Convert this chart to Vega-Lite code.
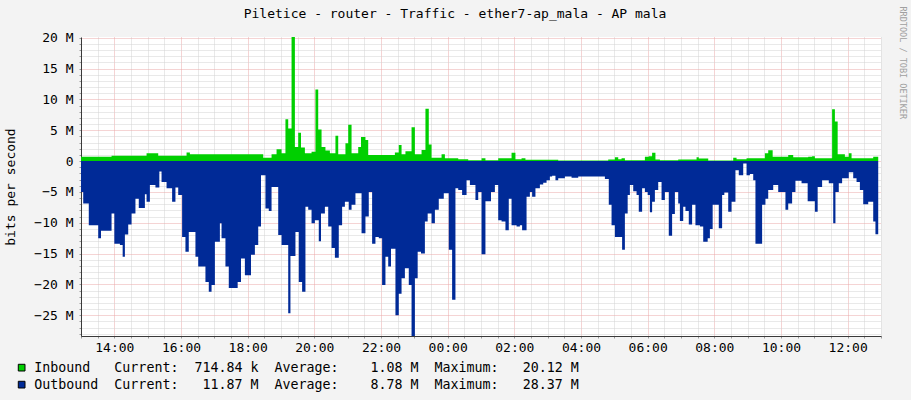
{
  "$schema": "https://vega.github.io/schema/vega-lite/v6.json",
  "autosize": "none",
  "width": 800,
  "height": 299,
  "padding": {"left": 81, "top": 37, "right": 30, "bottom": 64},
  "background": "#F3F3F3",
  "title": {
    "text": "Piletice - router - Traffic - ether7-ap_mala - AP mala",
    "font": "DejaVu Sans Mono", "fontSize": 13, "fontWeight": "normal", "color": "#000",
    "dx": -26, "dy": 24, "offset": 9
  },
  "data": {
    "values": [
      {"t": "2024-05-14T13:00", "s": "Outbound", "v": -5.0},
      {"t": "2024-05-14T13:04", "s": "Outbound", "v": -6.9},
      {"t": "2024-05-14T13:14", "s": "Outbound", "v": -10.4},
      {"t": "2024-05-14T13:31", "s": "Outbound", "v": -12.5},
      {"t": "2024-05-14T13:36", "s": "Outbound", "v": -11.3},
      {"t": "2024-05-14T13:55", "s": "Outbound", "v": -8.5},
      {"t": "2024-05-14T14:00", "s": "Outbound", "v": -13.4},
      {"t": "2024-05-14T14:10", "s": "Outbound", "v": -13.6},
      {"t": "2024-05-14T14:15", "s": "Outbound", "v": -15.5},
      {"t": "2024-05-14T14:19", "s": "Outbound", "v": -11.9},
      {"t": "2024-05-14T14:25", "s": "Outbound", "v": -10.3},
      {"t": "2024-05-14T14:31", "s": "Outbound", "v": -8.5},
      {"t": "2024-05-14T14:38", "s": "Outbound", "v": -6.1},
      {"t": "2024-05-14T14:44", "s": "Outbound", "v": -7.6},
      {"t": "2024-05-14T14:55", "s": "Outbound", "v": -5.4},
      {"t": "2024-05-14T14:58", "s": "Outbound", "v": -6.6},
      {"t": "2024-05-14T15:04", "s": "Outbound", "v": -3.9},
      {"t": "2024-05-14T15:14", "s": "Outbound", "v": -4.3},
      {"t": "2024-05-14T15:21", "s": "Outbound", "v": -1.7},
      {"t": "2024-05-14T15:25", "s": "Outbound", "v": -3.4},
      {"t": "2024-05-14T15:34", "s": "Outbound", "v": -4.4},
      {"t": "2024-05-14T15:44", "s": "Outbound", "v": -6.6},
      {"t": "2024-05-14T15:50", "s": "Outbound", "v": -4.3},
      {"t": "2024-05-14T15:55", "s": "Outbound", "v": -5.5},
      {"t": "2024-05-14T16:02", "s": "Outbound", "v": -12.3},
      {"t": "2024-05-14T16:08", "s": "Outbound", "v": -14.7},
      {"t": "2024-05-14T16:14", "s": "Outbound", "v": -11.5},
      {"t": "2024-05-14T16:26", "s": "Outbound", "v": -15.5},
      {"t": "2024-05-14T16:31", "s": "Outbound", "v": -17.1},
      {"t": "2024-05-14T16:44", "s": "Outbound", "v": -19.6},
      {"t": "2024-05-14T16:50", "s": "Outbound", "v": -21.2},
      {"t": "2024-05-14T16:55", "s": "Outbound", "v": -20.1},
      {"t": "2024-05-14T17:01", "s": "Outbound", "v": -13.1},
      {"t": "2024-05-14T17:10", "s": "Outbound", "v": -10.1},
      {"t": "2024-05-14T17:13", "s": "Outbound", "v": -12.5},
      {"t": "2024-05-14T17:20", "s": "Outbound", "v": -17.1},
      {"t": "2024-05-14T17:26", "s": "Outbound", "v": -20.6},
      {"t": "2024-05-14T17:42", "s": "Outbound", "v": -19.6},
      {"t": "2024-05-14T17:48", "s": "Outbound", "v": -15.8},
      {"t": "2024-05-14T17:55", "s": "Outbound", "v": -18.5},
      {"t": "2024-05-14T18:06", "s": "Outbound", "v": -15.2},
      {"t": "2024-05-14T18:13", "s": "Outbound", "v": -13.6},
      {"t": "2024-05-14T18:19", "s": "Outbound", "v": -10.6},
      {"t": "2024-05-14T18:24", "s": "Outbound", "v": -2.3},
      {"t": "2024-05-14T18:32", "s": "Outbound", "v": -7.7},
      {"t": "2024-05-14T18:38", "s": "Outbound", "v": -8.1},
      {"t": "2024-05-14T18:43", "s": "Outbound", "v": -4.2},
      {"t": "2024-05-14T18:55", "s": "Outbound", "v": -12.0},
      {"t": "2024-05-14T19:01", "s": "Outbound", "v": -13.6},
      {"t": "2024-05-14T19:13", "s": "Outbound", "v": -24.7},
      {"t": "2024-05-14T19:17", "s": "Outbound", "v": -15.4},
      {"t": "2024-05-14T19:26", "s": "Outbound", "v": -11.5},
      {"t": "2024-05-14T19:32", "s": "Outbound", "v": -19.6},
      {"t": "2024-05-14T19:38", "s": "Outbound", "v": -21.2},
      {"t": "2024-05-14T19:44", "s": "Outbound", "v": -7.4},
      {"t": "2024-05-14T19:49", "s": "Outbound", "v": -7.9},
      {"t": "2024-05-14T19:55", "s": "Outbound", "v": -10.1},
      {"t": "2024-05-14T20:01", "s": "Outbound", "v": -9.6},
      {"t": "2024-05-14T20:08", "s": "Outbound", "v": -13.0},
      {"t": "2024-05-14T20:12", "s": "Outbound", "v": -8.5},
      {"t": "2024-05-14T20:19", "s": "Outbound", "v": -7.4},
      {"t": "2024-05-14T20:25", "s": "Outbound", "v": -10.6},
      {"t": "2024-05-14T20:31", "s": "Outbound", "v": -14.1},
      {"t": "2024-05-14T20:37", "s": "Outbound", "v": -15.7},
      {"t": "2024-05-14T20:44", "s": "Outbound", "v": -10.4},
      {"t": "2024-05-14T20:50", "s": "Outbound", "v": -7.4},
      {"t": "2024-05-14T20:55", "s": "Outbound", "v": -6.6},
      {"t": "2024-05-14T21:02", "s": "Outbound", "v": -7.9},
      {"t": "2024-05-14T21:07", "s": "Outbound", "v": -7.1},
      {"t": "2024-05-14T21:14", "s": "Outbound", "v": -5.2},
      {"t": "2024-05-14T21:25", "s": "Outbound", "v": -11.7},
      {"t": "2024-05-14T21:32", "s": "Outbound", "v": -9.0},
      {"t": "2024-05-14T21:38", "s": "Outbound", "v": -5.0},
      {"t": "2024-05-14T21:44", "s": "Outbound", "v": -13.4},
      {"t": "2024-05-14T21:50", "s": "Outbound", "v": -12.3},
      {"t": "2024-05-14T21:56", "s": "Outbound", "v": -12.5},
      {"t": "2024-05-14T22:02", "s": "Outbound", "v": -20.1},
      {"t": "2024-05-14T22:08", "s": "Outbound", "v": -15.5},
      {"t": "2024-05-14T22:13", "s": "Outbound", "v": -17.1},
      {"t": "2024-05-14T22:18", "s": "Outbound", "v": -14.2},
      {"t": "2024-05-14T22:26", "s": "Outbound", "v": -25.0},
      {"t": "2024-05-14T22:32", "s": "Outbound", "v": -21.5},
      {"t": "2024-05-14T22:37", "s": "Outbound", "v": -19.0},
      {"t": "2024-05-14T22:43", "s": "Outbound", "v": -17.4},
      {"t": "2024-05-14T22:50", "s": "Outbound", "v": -20.1},
      {"t": "2024-05-14T22:55", "s": "Outbound", "v": -28.37},
      {"t": "2024-05-14T23:01", "s": "Outbound", "v": -19.0},
      {"t": "2024-05-14T23:06", "s": "Outbound", "v": -14.7},
      {"t": "2024-05-14T23:12", "s": "Outbound", "v": -15.0},
      {"t": "2024-05-14T23:19", "s": "Outbound", "v": -9.8},
      {"t": "2024-05-14T23:24", "s": "Outbound", "v": -8.5},
      {"t": "2024-05-14T23:31", "s": "Outbound", "v": -10.1},
      {"t": "2024-05-14T23:37", "s": "Outbound", "v": -7.9},
      {"t": "2024-05-14T23:44", "s": "Outbound", "v": -6.1},
      {"t": "2024-05-14T23:53", "s": "Outbound", "v": -5.2},
      {"t": "2024-05-15T00:02", "s": "Outbound", "v": -14.4},
      {"t": "2024-05-15T00:08", "s": "Outbound", "v": -22.5},
      {"t": "2024-05-15T00:14", "s": "Outbound", "v": -4.4},
      {"t": "2024-05-15T00:19", "s": "Outbound", "v": -4.7},
      {"t": "2024-05-15T00:26", "s": "Outbound", "v": -5.5},
      {"t": "2024-05-15T00:34", "s": "Outbound", "v": -3.1},
      {"t": "2024-05-15T00:40", "s": "Outbound", "v": -3.9},
      {"t": "2024-05-15T00:50", "s": "Outbound", "v": -6.3},
      {"t": "2024-05-15T00:55", "s": "Outbound", "v": -5.0},
      {"t": "2024-05-15T01:01", "s": "Outbound", "v": -15.1},
      {"t": "2024-05-15T01:08", "s": "Outbound", "v": -6.5},
      {"t": "2024-05-15T01:18", "s": "Outbound", "v": -5.0},
      {"t": "2024-05-15T01:25", "s": "Outbound", "v": -3.9},
      {"t": "2024-05-15T01:31", "s": "Outbound", "v": -9.6},
      {"t": "2024-05-15T01:37", "s": "Outbound", "v": -9.8},
      {"t": "2024-05-15T01:44", "s": "Outbound", "v": -11.2},
      {"t": "2024-05-15T01:50", "s": "Outbound", "v": -6.1},
      {"t": "2024-05-15T01:55", "s": "Outbound", "v": -10.4},
      {"t": "2024-05-15T02:04", "s": "Outbound", "v": -10.6},
      {"t": "2024-05-15T02:10", "s": "Outbound", "v": -10.4},
      {"t": "2024-05-15T02:14", "s": "Outbound", "v": -11.2},
      {"t": "2024-05-15T02:22", "s": "Outbound", "v": -5.8},
      {"t": "2024-05-15T02:28", "s": "Outbound", "v": -5.0},
      {"t": "2024-05-15T02:32", "s": "Outbound", "v": -5.8},
      {"t": "2024-05-15T02:38", "s": "Outbound", "v": -4.4},
      {"t": "2024-05-15T02:46", "s": "Outbound", "v": -3.8},
      {"t": "2024-05-15T02:52", "s": "Outbound", "v": -3.5},
      {"t": "2024-05-15T02:58", "s": "Outbound", "v": -3.1},
      {"t": "2024-05-15T03:04", "s": "Outbound", "v": -2.5},
      {"t": "2024-05-15T03:08", "s": "Outbound", "v": -2.4},
      {"t": "2024-05-15T03:14", "s": "Outbound", "v": -3.1},
      {"t": "2024-05-15T03:19", "s": "Outbound", "v": -2.8},
      {"t": "2024-05-15T03:31", "s": "Outbound", "v": -2.5},
      {"t": "2024-05-15T03:43", "s": "Outbound", "v": -2.7},
      {"t": "2024-05-15T03:55", "s": "Outbound", "v": -2.5},
      {"t": "2024-05-15T04:43", "s": "Outbound", "v": -2.9},
      {"t": "2024-05-15T04:50", "s": "Outbound", "v": -7.1},
      {"t": "2024-05-15T04:55", "s": "Outbound", "v": -10.4},
      {"t": "2024-05-15T05:01", "s": "Outbound", "v": -12.3},
      {"t": "2024-05-15T05:14", "s": "Outbound", "v": -14.4},
      {"t": "2024-05-15T05:19", "s": "Outbound", "v": -8.5},
      {"t": "2024-05-15T05:24", "s": "Outbound", "v": -5.5},
      {"t": "2024-05-15T05:28", "s": "Outbound", "v": -3.9},
      {"t": "2024-05-15T05:34", "s": "Outbound", "v": -4.9},
      {"t": "2024-05-15T05:40", "s": "Outbound", "v": -5.5},
      {"t": "2024-05-15T05:44", "s": "Outbound", "v": -8.2},
      {"t": "2024-05-15T05:50", "s": "Outbound", "v": -4.4},
      {"t": "2024-05-15T05:55", "s": "Outbound", "v": -5.0},
      {"t": "2024-05-15T06:00", "s": "Outbound", "v": -5.5},
      {"t": "2024-05-15T06:04", "s": "Outbound", "v": -8.3},
      {"t": "2024-05-15T06:08", "s": "Outbound", "v": -6.6},
      {"t": "2024-05-15T06:13", "s": "Outbound", "v": -4.7},
      {"t": "2024-05-15T06:19", "s": "Outbound", "v": -3.4},
      {"t": "2024-05-15T06:25", "s": "Outbound", "v": -6.3},
      {"t": "2024-05-15T06:31", "s": "Outbound", "v": -5.0},
      {"t": "2024-05-15T06:38", "s": "Outbound", "v": -12.1},
      {"t": "2024-05-15T06:44", "s": "Outbound", "v": -8.6},
      {"t": "2024-05-15T06:49", "s": "Outbound", "v": -5.0},
      {"t": "2024-05-15T06:55", "s": "Outbound", "v": -6.9},
      {"t": "2024-05-15T06:58", "s": "Outbound", "v": -9.7},
      {"t": "2024-05-15T07:04", "s": "Outbound", "v": -7.4},
      {"t": "2024-05-15T07:08", "s": "Outbound", "v": -8.1},
      {"t": "2024-05-15T07:14", "s": "Outbound", "v": -10.3},
      {"t": "2024-05-15T07:20", "s": "Outbound", "v": -7.1},
      {"t": "2024-05-15T07:26", "s": "Outbound", "v": -10.4},
      {"t": "2024-05-15T07:34", "s": "Outbound", "v": -10.6},
      {"t": "2024-05-15T07:40", "s": "Outbound", "v": -13.1},
      {"t": "2024-05-15T07:48", "s": "Outbound", "v": -12.5},
      {"t": "2024-05-15T07:52", "s": "Outbound", "v": -11.0},
      {"t": "2024-05-15T07:57", "s": "Outbound", "v": -7.1},
      {"t": "2024-05-15T08:08", "s": "Outbound", "v": -10.9},
      {"t": "2024-05-15T08:14", "s": "Outbound", "v": -5.5},
      {"t": "2024-05-15T08:18", "s": "Outbound", "v": -5.1},
      {"t": "2024-05-15T08:25", "s": "Outbound", "v": -8.2},
      {"t": "2024-05-15T08:31", "s": "Outbound", "v": -6.6},
      {"t": "2024-05-15T08:38", "s": "Outbound", "v": -1.5},
      {"t": "2024-05-15T08:44", "s": "Outbound", "v": -2.3},
      {"t": "2024-05-15T08:52", "s": "Outbound", "v": -0.4},
      {"t": "2024-05-15T08:58", "s": "Outbound", "v": -2.3},
      {"t": "2024-05-15T09:04", "s": "Outbound", "v": -2.1},
      {"t": "2024-05-15T09:10", "s": "Outbound", "v": -3.1},
      {"t": "2024-05-15T09:14", "s": "Outbound", "v": -13.4},
      {"t": "2024-05-15T09:26", "s": "Outbound", "v": -7.1},
      {"t": "2024-05-15T09:32", "s": "Outbound", "v": -6.1},
      {"t": "2024-05-15T09:37", "s": "Outbound", "v": -4.7},
      {"t": "2024-05-15T09:46", "s": "Outbound", "v": -3.9},
      {"t": "2024-05-15T09:55", "s": "Outbound", "v": -5.0},
      {"t": "2024-05-15T10:08", "s": "Outbound", "v": -7.9},
      {"t": "2024-05-15T10:13", "s": "Outbound", "v": -6.9},
      {"t": "2024-05-15T10:20", "s": "Outbound", "v": -5.0},
      {"t": "2024-05-15T10:26", "s": "Outbound", "v": -3.2},
      {"t": "2024-05-15T10:37", "s": "Outbound", "v": -3.6},
      {"t": "2024-05-15T10:48", "s": "Outbound", "v": -6.5},
      {"t": "2024-05-15T11:01", "s": "Outbound", "v": -8.2},
      {"t": "2024-05-15T11:06", "s": "Outbound", "v": -4.2},
      {"t": "2024-05-15T11:14", "s": "Outbound", "v": -3.1},
      {"t": "2024-05-15T11:26", "s": "Outbound", "v": -3.6},
      {"t": "2024-05-15T11:34", "s": "Outbound", "v": -10.1},
      {"t": "2024-05-15T11:38", "s": "Outbound", "v": -5.0},
      {"t": "2024-05-15T11:44", "s": "Outbound", "v": -3.6},
      {"t": "2024-05-15T11:50", "s": "Outbound", "v": -2.8},
      {"t": "2024-05-15T12:02", "s": "Outbound", "v": -1.8},
      {"t": "2024-05-15T12:10", "s": "Outbound", "v": -2.8},
      {"t": "2024-05-15T12:16", "s": "Outbound", "v": -3.4},
      {"t": "2024-05-15T12:22", "s": "Outbound", "v": -4.7},
      {"t": "2024-05-15T12:28", "s": "Outbound", "v": -7.0},
      {"t": "2024-05-15T12:37", "s": "Outbound", "v": -6.6},
      {"t": "2024-05-15T12:46", "s": "Outbound", "v": -9.8},
      {"t": "2024-05-15T12:50", "s": "Outbound", "v": -11.87},
      {"t": "2024-05-15T12:55", "s": "Outbound", "v": -11.87},
      {"t": "2024-05-14T13:00", "s": "Inbound", "v": 0.7},
      {"t": "2024-05-14T13:55", "s": "Inbound", "v": 0.85},
      {"t": "2024-05-14T14:58", "s": "Inbound", "v": 1.25},
      {"t": "2024-05-14T15:19", "s": "Inbound", "v": 0.85},
      {"t": "2024-05-14T16:10", "s": "Inbound", "v": 1.4},
      {"t": "2024-05-14T16:16", "s": "Inbound", "v": 1.1},
      {"t": "2024-05-14T18:28", "s": "Inbound", "v": 0.55},
      {"t": "2024-05-14T18:43", "s": "Inbound", "v": 1.1},
      {"t": "2024-05-14T18:52", "s": "Inbound", "v": 1.9},
      {"t": "2024-05-14T19:01", "s": "Inbound", "v": 1.25},
      {"t": "2024-05-14T19:08", "s": "Inbound", "v": 6.8},
      {"t": "2024-05-14T19:13", "s": "Inbound", "v": 5.3},
      {"t": "2024-05-14T19:19", "s": "Inbound", "v": 20.12},
      {"t": "2024-05-14T19:25", "s": "Inbound", "v": 2.3},
      {"t": "2024-05-14T19:31", "s": "Inbound", "v": 4.6},
      {"t": "2024-05-14T19:36", "s": "Inbound", "v": 2.2},
      {"t": "2024-05-14T19:43", "s": "Inbound", "v": 1.25},
      {"t": "2024-05-14T19:55", "s": "Inbound", "v": 1.5},
      {"t": "2024-05-14T20:02", "s": "Inbound", "v": 11.6},
      {"t": "2024-05-14T20:07", "s": "Inbound", "v": 5.1},
      {"t": "2024-05-14T20:13", "s": "Inbound", "v": 2.3},
      {"t": "2024-05-14T20:20", "s": "Inbound", "v": 1.7},
      {"t": "2024-05-14T20:28", "s": "Inbound", "v": 1.25},
      {"t": "2024-05-14T20:38", "s": "Inbound", "v": 4.1},
      {"t": "2024-05-14T20:43", "s": "Inbound", "v": 1.1},
      {"t": "2024-05-14T20:56", "s": "Inbound", "v": 2.9},
      {"t": "2024-05-14T21:01", "s": "Inbound", "v": 5.9},
      {"t": "2024-05-14T21:07", "s": "Inbound", "v": 1.25},
      {"t": "2024-05-14T21:19", "s": "Inbound", "v": 2.3},
      {"t": "2024-05-14T21:24", "s": "Inbound", "v": 3.9},
      {"t": "2024-05-14T21:32", "s": "Inbound", "v": 3.4},
      {"t": "2024-05-14T21:37", "s": "Inbound", "v": 1.0},
      {"t": "2024-05-14T22:25", "s": "Inbound", "v": 1.4},
      {"t": "2024-05-14T22:32", "s": "Inbound", "v": 2.6},
      {"t": "2024-05-14T22:37", "s": "Inbound", "v": 1.1},
      {"t": "2024-05-14T22:44", "s": "Inbound", "v": 1.6},
      {"t": "2024-05-14T22:55", "s": "Inbound", "v": 5.5},
      {"t": "2024-05-14T23:01", "s": "Inbound", "v": 1.1},
      {"t": "2024-05-14T23:13", "s": "Inbound", "v": 1.8},
      {"t": "2024-05-14T23:20", "s": "Inbound", "v": 8.5},
      {"t": "2024-05-14T23:26", "s": "Inbound", "v": 2.7},
      {"t": "2024-05-14T23:31", "s": "Inbound", "v": 0.55},
      {"t": "2024-05-14T23:49", "s": "Inbound", "v": 1.1},
      {"t": "2024-05-14T23:55", "s": "Inbound", "v": 0.45},
      {"t": "2024-05-15T00:19", "s": "Inbound", "v": 0.3},
      {"t": "2024-05-15T00:37", "s": "Inbound", "v": 0.15},
      {"t": "2024-05-15T01:01", "s": "Inbound", "v": 0.45},
      {"t": "2024-05-15T01:08", "s": "Inbound", "v": 0.15},
      {"t": "2024-05-15T01:31", "s": "Inbound", "v": 0.45},
      {"t": "2024-05-15T01:55", "s": "Inbound", "v": 1.35},
      {"t": "2024-05-15T02:02", "s": "Inbound", "v": 0.3},
      {"t": "2024-05-15T02:13", "s": "Inbound", "v": 0.45},
      {"t": "2024-05-15T02:20", "s": "Inbound", "v": 0.2},
      {"t": "2024-05-15T03:19", "s": "Inbound", "v": 0.1},
      {"t": "2024-05-15T04:49", "s": "Inbound", "v": 0.27},
      {"t": "2024-05-15T05:01", "s": "Inbound", "v": 0.6},
      {"t": "2024-05-15T05:07", "s": "Inbound", "v": 0.3},
      {"t": "2024-05-15T05:13", "s": "Inbound", "v": 0.45},
      {"t": "2024-05-15T05:19", "s": "Inbound", "v": 0.15},
      {"t": "2024-05-15T05:55", "s": "Inbound", "v": 0.7},
      {"t": "2024-05-15T06:02", "s": "Inbound", "v": 0.8},
      {"t": "2024-05-15T06:08", "s": "Inbound", "v": 1.35},
      {"t": "2024-05-15T06:14", "s": "Inbound", "v": 0.27},
      {"t": "2024-05-15T06:22", "s": "Inbound", "v": 0.15},
      {"t": "2024-05-15T06:55", "s": "Inbound", "v": 0.27},
      {"t": "2024-05-15T07:28", "s": "Inbound", "v": 0.6},
      {"t": "2024-05-15T07:32", "s": "Inbound", "v": 0.4},
      {"t": "2024-05-15T07:49", "s": "Inbound", "v": 0.1},
      {"t": "2024-05-15T08:34", "s": "Inbound", "v": 0.55},
      {"t": "2024-05-15T08:40", "s": "Inbound", "v": 0.3},
      {"t": "2024-05-15T08:58", "s": "Inbound", "v": 0.45},
      {"t": "2024-05-15T09:31", "s": "Inbound", "v": 1.25},
      {"t": "2024-05-15T09:37", "s": "Inbound", "v": 1.75},
      {"t": "2024-05-15T09:45", "s": "Inbound", "v": 0.7},
      {"t": "2024-05-15T10:13", "s": "Inbound", "v": 1.0},
      {"t": "2024-05-15T10:22", "s": "Inbound", "v": 0.6},
      {"t": "2024-05-15T10:49", "s": "Inbound", "v": 0.7},
      {"t": "2024-05-15T10:56", "s": "Inbound", "v": 0.8},
      {"t": "2024-05-15T11:01", "s": "Inbound", "v": 0.45},
      {"t": "2024-05-15T11:32", "s": "Inbound", "v": 8.4},
      {"t": "2024-05-15T11:37", "s": "Inbound", "v": 6.4},
      {"t": "2024-05-15T11:42", "s": "Inbound", "v": 1.1},
      {"t": "2024-05-15T11:55", "s": "Inbound", "v": 0.7},
      {"t": "2024-05-15T12:02", "s": "Inbound", "v": 1.25},
      {"t": "2024-05-15T12:07", "s": "Inbound", "v": 0.45},
      {"t": "2024-05-15T12:46", "s": "Inbound", "v": 0.71},
      {"t": "2024-05-15T12:55", "s": "Inbound", "v": 0.71}
    ]
  },
  "layer": [
    {
      "mark": {"type": "area", "interpolate": "step-after", "opacity": 1},
      "encoding": {
        "x": {
          "field": "t", "type": "temporal",
          "scale": {"domain": ["2024-05-14T13:00", "2024-05-15T13:00"]},
          "axis": {
            "title": null,
            "tickCount": 48,
            "format": "%H:%M",
            "labelExpr": "hours(datum.value) % 2 == 0 && minutes(datum.value) == 0 ? datum.label : ''",
            "labelOverlap": false,
            "labelFlush": false,
            "gridColor": {"condition": {"test": "hours(datum.value) % 2 == 0 && minutes(datum.value) == 0", "value": "#EBA9A9"}, "value": "#D2D2D2"},
            "tickSize": 2,
            "labelPadding": 3
          }
        },
        "y": {
          "field": "v", "type": "quantitative", "stack": null,
          "scale": {"domain": [-28.37, 20.12], "nice": false, "zero": false},
          "axis": {
            "title": "bits per second",
            "values": [-28, -27, -26, -25, -24, -23, -22, -21, -20, -19, -18, -17, -16, -15, -14, -13, -12, -11, -10, -9, -8, -7, -6, -5, -4, -3, -2, -1, 0, 1, 2, 3, 4, 5, 6, 7, 8, 9, 10, 11, 12, 13, 14, 15, 16, 17, 18, 19, 20],
            "labelExpr": "datum.value == 0 ? '0' : (datum.value % 5 == 0 ? datum.label + ' M' : '')",
            "labelOverlap": false,
            "gridColor": {"condition": {"test": "datum.value % 5 == 0", "value": "#EBA9A9"}, "value": "#D2D2D2"},
            "tickSize": 2,
            "labelPadding": 6,
            "titlePadding": 16
          }
        },
        "color": {
          "field": "s", "type": "nominal",
          "scale": {"domain": ["Inbound", "Outbound"], "range": ["#00CF00", "#002A97"]},
          "legend": {
            "title": null, "orient": "none", "legendX": -66, "legendY": 324,
            "direction": "vertical", "symbolType": "square", "symbolSize": 45,
            "symbolStrokeColor": "#000", "symbolStrokeWidth": 1, "symbolOpacity": 1,
            "labelFont": "DejaVu Sans Mono", "labelFontSize": 13.3, "labelColor": "#000",
            "labelLimit": 800, "rowPadding": 3, "labelOffset": 6,
            "labelExpr": "datum.label == 'Inbound' ? 'Inbound\u00a0\u00a0\u00a0Current:\u00a0\u00a0714.84\u00a0k\u00a0\u00a0Average:\u00a0\u00a0\u00a0\u00a01.08\u00a0M\u00a0\u00a0Maximum:\u00a0\u00a0\u00a020.12\u00a0M' : 'Outbound\u00a0\u00a0Current:\u00a0\u00a0\u00a011.87\u00a0M\u00a0\u00a0Average:\u00a0\u00a0\u00a0\u00a08.78\u00a0M\u00a0\u00a0Maximum:\u00a0\u00a0\u00a028.37\u00a0M'"
          }
        }
      }
    },
    {
      "data": {"values": [{}]},
      "mark": {"type": "rule", "strokeOpacity": 0},
      "encoding": {
        "y": {
          "datum": 0, "type": "quantitative",
          "axis": {
            "orient": "right", "title": "RRDTOOL / TOBI OETIKER",
            "labels": false, "ticks": false, "domain": false, "grid": false,
            "titleAngle": 90, "titleX": 21.5, "titleY": -31,
            "titleAlign": "left", "titleBaseline": "middle",
            "titleFontSize": 8.5, "titleColor": "#A0A0A0"
          }
        }
      }
    }
  ],
  "resolve": {"axis": {"y": "independent"}},
  "config": {
    "view": {"fill": "white", "stroke": null},
    "axis": {
      "labelFont": "DejaVu Sans Mono", "labelFontSize": 13, "labelColor": "#000",
      "titleFont": "DejaVu Sans Mono", "titleFontSize": 13, "titleFontWeight": "normal", "titleColor": "#000",
      "domainColor": "#3A3A3A", "domainWidth": 1,
      "tickColor": "#9A9A9A", "gridDash": [1, 1], "gridWidth": 1, "gridOpacity": 1
    }
  }
}
